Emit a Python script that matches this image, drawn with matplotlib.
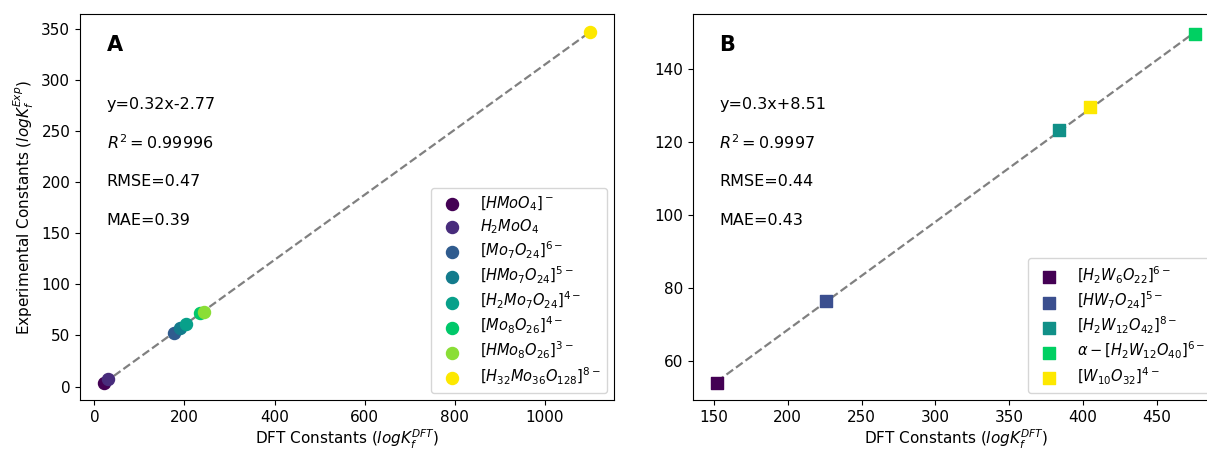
import numpy as np
import matplotlib
matplotlib.use("Agg")
import matplotlib.pyplot as plt

plt.rcParams["font.size"] = 11

# panel A: molybdates
labels_a = [r"$[HMoO_4]^-$", r"$H_2MoO_4$", r"$[Mo_7O_{24}]^{6-}$", r"$[HMo_7O_{24}]^{5-}$",
            r"$[H_2Mo_7O_{24}]^{4-}$", r"$[Mo_8O_{26}]^{4-}$", r"$[HMo_8O_{26}]^{3-}$",
            r"$[H_{32}Mo_{36}O_{128}]^{8-}$"]
dft_a = [22, 30, 177, 190, 204, 234, 244, 1100]
exp_a = [3.5, 7.0, 52.8, 57.5, 61.2, 71.5, 73.0, 347.0]
colors_a = ["#440154", "#482c7c", "#2f5b8e", "#137b8c", "#08a08a", "#00c86a", "#8ade36", "#fde800"]
stats_a = ["y=0.32x-2.77", r"$R^2 = 0.99996$", "RMSE=0.47", "MAE=0.39"]

# panel B: tungstates
labels_b = [r"$[H_2W_6O_{22}]^{6-}$", r"$[HW_7O_{24}]^{5-}$", r"$[H_2W_{12}O_{42}]^{8-}$",
            r"$\alpha-[H_2W_{12}O_{40}]^{6-}$", r"$[W_{10}O_{32}]^{4-}$"]
dft_b = [152, 226, 384, 476, 405]
exp_b = [54.0, 76.6, 123.3, 149.7, 129.7]
colors_b = ["#440154", "#3b4f8f", "#119088", "#00d062", "#fde800"]
stats_b = ["y=0.3x+8.51", r"$R^2 = 0.9997$", "RMSE=0.44", "MAE=0.43"]

fig = plt.figure(figsize=(12.07, 4.51), dpi=100)
axA = fig.add_axes([0.0663, 0.112, 0.4424, 0.856])
axB = fig.add_axes([0.5742, 0.112, 0.4358, 0.856])


def panel(ax, xs, ys, labels, colors, stats, letter, marker):
    k, b = np.polyfit(xs, ys, 1)
    xl = np.array([min(xs), max(xs)])
    ax.plot(xl, k * xl + b, "--", color="gray", lw=1.6, zorder=1)
    for x, y, lab, c in zip(xs, ys, labels, colors):
        ax.scatter(x, y, s=75, color=c, marker=marker, label=lab, zorder=2)
    ax.text(0.05, 0.92, letter, transform=ax.transAxes, fontsize=15, fontweight="bold",
            va="center")
    for i, s in enumerate(stats):
        ax.text(0.05, 0.767 - i * 0.1, s, transform=ax.transAxes, fontsize=11.5, va="center")
    ax.legend(loc="lower right", fontsize=10.5, labelspacing=0.28, handletextpad=0.9,
              borderpad=0.45)
    ax.set_xlabel(r"DFT Constants ($logK_f^{DFT}$)", fontsize=11, labelpad=2)


panel(axA, dft_a, exp_a, labels_a, colors_a, stats_a, "A", "o")
axA.set_ylabel(r"Experimental Constants ($logK_f^{Exp}$)", fontsize=11)
panel(axB, dft_b, exp_b, labels_b, colors_b, stats_b, "B", "s")

fig.savefig("out.png", dpi=100)
